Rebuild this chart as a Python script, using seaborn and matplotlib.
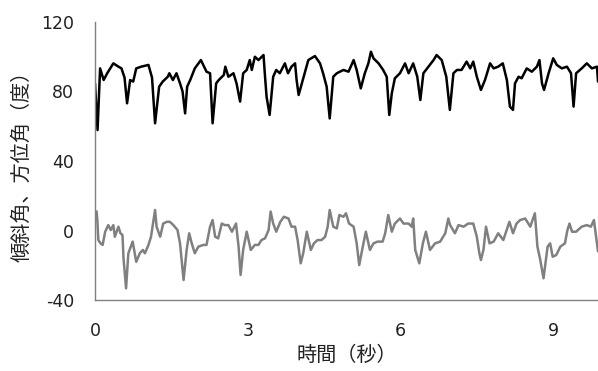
import matplotlib
matplotlib.use("Agg")
import matplotlib.pyplot as plt
import seaborn as sns
import pandas as pd

# --- data ---
t_azimuth = [0.0, 0.05, 0.1, 0.17, 0.24, 0.36, 0.46, 0.52, 0.58, 0.63, 0.69, 0.75, 0.81, 0.91, 1.05, 1.12,
             1.18, 1.26, 1.33, 1.43, 1.46, 1.53, 1.6, 1.67, 1.72, 1.77, 1.81, 1.87, 1.96, 2.08, 2.19, 2.26,
             2.31, 2.38, 2.43, 2.53, 2.56, 2.62, 2.72, 2.78, 2.85, 2.91, 2.98, 3.04, 3.08, 3.14, 3.21, 3.31,
             3.34, 3.37, 3.43, 3.5, 3.56, 3.63, 3.73, 3.79, 3.86, 3.93, 3.96, 4.0, 4.09, 4.19, 4.32, 4.42,
             4.48, 4.55, 4.61, 4.68, 4.75, 4.88, 4.98, 5.08, 5.14, 5.22, 5.3, 5.37, 5.42, 5.47, 5.57, 5.66,
             5.73, 5.78, 5.83, 5.89, 5.99, 6.09, 6.16, 6.25, 6.33, 6.39, 6.45, 6.55, 6.65, 6.71, 6.81, 6.9,
             6.97, 7.04, 7.11, 7.2, 7.3, 7.37, 7.43, 7.5, 7.58, 7.66, 7.76, 7.83, 7.92, 8.01, 8.09, 8.15,
             8.21, 8.25, 8.32, 8.38, 8.48, 8.58, 8.68, 8.73, 8.78, 8.82, 8.91, 8.97, 9.0, 9.07, 9.17, 9.27,
             9.35, 9.4, 9.45, 9.56, 9.66, 9.76, 9.86, 9.88]
azimuth = [84.7, 57.8, 93.3, 86.6, 90.5, 96.2, 94.3, 93.3, 88.0, 73.2, 86.6, 85.7, 93.3, 94.3, 95.3, 88.0,
           61.7, 82.8, 85.7, 88.5, 90.5, 86.6, 90.5, 84.7, 80.0, 67.4, 82.8, 86.6, 93.3, 98.1, 91.4, 90.5,
           61.7, 84.7, 86.6, 89.5, 94.3, 88.5, 90.5, 84.7, 74.2, 90.5, 92.4, 98.1, 92.4, 100.0, 98.1, 101.0,
           88.5, 77.0, 66.5, 88.5, 92.4, 90.5, 96.2, 90.5, 94.3, 96.2, 86.6, 78.0, 87.6, 98.1, 100.4, 96.2,
           90.5, 82.8, 64.5, 88.5, 90.5, 92.4, 91.4, 98.1, 92.4, 81.8, 90.5, 96.2, 102.9, 99.1, 96.2, 92.4,
           88.5, 66.5, 79.0, 87.6, 90.5, 96.2, 90.5, 96.2, 88.5, 75.1, 90.5, 94.3, 98.1, 101.0, 98.1, 88.5,
           69.4, 90.5, 92.4, 92.4, 97.2, 93.3, 97.2, 88.5, 80.9, 86.6, 96.2, 93.3, 94.3, 96.2, 86.6, 71.3,
           69.4, 84.7, 88.5, 87.6, 93.3, 91.4, 94.3, 98.1, 84.7, 80.9, 90.5, 96.2, 99.1, 95.3, 93.3, 94.3,
           90.5, 71.3, 90.5, 93.3, 96.2, 93.3, 94.3, 85.7]

t_tilt = [0.0, 0.03, 0.046, 0.065, 0.11, 0.15, 0.2, 0.26, 0.31, 0.36, 0.39, 0.46, 0.5, 0.54, 0.56, 0.61,
          0.655, 0.74, 0.81, 0.88, 0.94, 0.98, 1.05, 1.1, 1.13, 1.18, 1.21, 1.28, 1.34, 1.41, 1.47, 1.54,
          1.62, 1.67, 1.74, 1.8, 1.85, 1.9, 1.96, 2.03, 2.13, 2.19, 2.26, 2.31, 2.36, 2.42, 2.49, 2.55,
          2.62, 2.69, 2.77, 2.82, 2.86, 2.91, 2.98, 3.06, 3.14, 3.21, 3.27, 3.34, 3.41, 3.45, 3.5, 3.56,
          3.64, 3.71, 3.8, 3.86, 3.93, 3.98, 4.04, 4.09, 4.16, 4.24, 4.3, 4.37, 4.45, 4.52, 4.57, 4.61,
          4.68, 4.75, 4.8, 4.88, 4.93, 4.99, 5.08, 5.14, 5.19, 5.26, 5.32, 5.4, 5.47, 5.55, 5.65, 5.7,
          5.76, 5.83, 5.89, 5.99, 6.06, 6.16, 6.22, 6.25, 6.29, 6.37, 6.44, 6.5, 6.58, 6.68, 6.78, 6.88,
          6.94, 6.975, 7.07, 7.14, 7.24, 7.33, 7.43, 7.5, 7.55, 7.58, 7.63, 7.68, 7.75, 7.83, 7.92, 8.02,
          8.14, 8.21, 8.28, 8.35, 8.45, 8.55, 8.64, 8.69, 8.74, 8.81, 8.89, 8.94, 8.99, 9.06, 9.14, 9.23,
          9.28, 9.32, 9.37, 9.45, 9.56, 9.66, 9.74, 9.8, 9.86, 9.88]
tilt = [9.9, 11.0, 6.0, -5.5, -7.4, -8.3, -0.7, 3.1, 0.3, 3.1, -3.6, 2.2, -1.6, -2.6, -16.0, -33.3,
        -13.1, -6.4, -18.0, -13.1, -11.2, -13.1, -8.3, -3.6, 2.2, 11.8, 2.2, -3.6, 4.0, 5.0, 5.0, 3.1,
        0.3, -7.4, -28.5, -11.2, -1.6, -7.4, -13.1, -9.3, -8.3, -8.3, 2.2, 6.0, -3.6, -4.5, 4.0, 3.1,
        3.1, -0.7, 4.0, -9.3, -25.6, -11.2, -0.7, -11.2, -8.3, -8.3, -5.5, -4.5, 0.3, 10.9, 4.0, -0.7,
        5.0, 7.9, 6.9, 2.2, 2.2, -5.5, -18.9, -13.1, -0.7, -11.2, -7.4, -5.5, -5.5, -3.6, 2.2, 11.8,
        2.2, 1.2, 8.9, 7.9, 9.9, 4.0, 2.2, -7.4, -19.9, -9.3, -0.7, -11.2, -7.4, -6.4, -6.4, -1.6,
        8.9, -0.7, 4.0, 6.9, 4.0, 4.0, 2.2, 6.9, -11.2, -18.9, -7.4, -0.7, -11.2, -7.4, -6.4, -1.6,
        6.9, 3.1, -1.6, 3.1, 2.2, 4.0, 4.0, -3.6, -13.1, -17.0, -11.2, 2.2, -7.4, -6.4, -1.6, -5.5,
        5.0, -1.6, 4.0, 6.0, 6.9, 2.2, 9.9, -9.3, -16.0, -27.5, -9.3, -7.4, -15.1, -14.1, -9.3, -7.4,
        0.3, 4.0, -0.7, -0.7, 2.2, 3.1, 2.2, 6.0, -7.4, -12.0]

x_ticks = [0, 3, 6, 9]
y_ticks = [-40, 0, 40, 80, 120]
x_label = "時間（秒）"
y_label = "傾斜角、方位角（度）"

sns.set_theme(style="white")
plt.rcParams['font.family'] = ['DejaVu Sans', 'Noto Sans CJK JP']

df_a = pd.DataFrame({"t": t_azimuth, "v": azimuth})
df_t = pd.DataFrame({"t": t_tilt, "v": tilt})

fig = plt.figure(figsize=(5.98, 3.71), dpi=100)
ax = fig.add_axes([95 / 598, 1 - 300 / 371, 1 - 95 / 598, (300 - 22) / 371])

sns.lineplot(data=df_a, x="t", y="v", ax=ax, color="black", linewidth=1.8, estimator=None)
sns.lineplot(data=df_t, x="t", y="v", ax=ax, color="#808080", linewidth=1.8, estimator=None)

ax.set_xlim(0, 9.88)
ax.set_ylim(-40, 120)
ax.set_xticks(x_ticks)
ax.set_yticks(y_ticks)
ax.set_xticklabels([str(v) for v in x_ticks])
ax.set_yticklabels([str(v) for v in y_ticks])
ax.tick_params(axis="both", direction="in", length=4, width=1, color="#808080",
               labelsize=12.5, labelcolor="#222222")
ax.tick_params(axis="x", pad=16)
ax.tick_params(axis="y", pad=15)
for s in ["top", "right"]:
    ax.spines[s].set_visible(False)
for s in ["left", "bottom"]:
    ax.spines[s].set_color("#808080")
    ax.spines[s].set_linewidth(1)

ax.set_xlabel(x_label, fontsize=14.5, color="#222222")
ax.set_ylabel(y_label, fontsize=14.5, color="#222222")
ax.xaxis.set_label_coords(0.5, -0.2)
ax.xaxis.label.set_va("center")
ax.yaxis.set_label_coords(-0.145, 0.5)
ax.yaxis.label.set_va("center")

fig.savefig("out.png", dpi=100)
